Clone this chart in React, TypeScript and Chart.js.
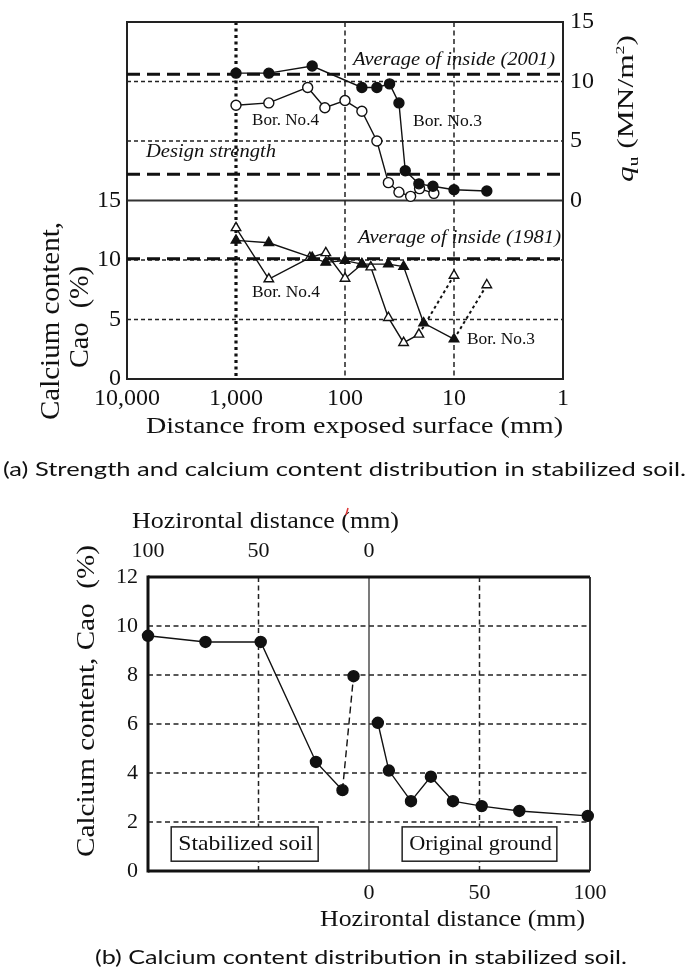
import React, { useEffect, useRef } from 'react';
import { Chart, registerables } from 'chart.js';

Chart.register(...registerables);

// ---------------- Panel (a) data ----------------
const xTickValues = [10000, 1000, 100, 10, 1];
const xTickLabels = ['10,000', '1,000', '100', '10', '1'];
const caoTicks = [0, 5, 10, 15];
const quTicks = [0, 5, 10, 15];

// q_u (MN/m2) vs distance (mm)
const bor3QuDist = [1000, 500, 200, 70, 51, 39, 32, 28, 21, 15.6, 10, 5];
const bor3Qu = [10.7, 10.7, 11.3, 9.5, 9.5, 9.8, 8.2, 2.5, 1.4, 1.2, 0.9, 0.8];
const bor4QuDist = [1000, 500, 220, 153, 100, 70, 51, 40, 32, 25, 20.7, 15.3];
const bor4Qu = [8.0, 8.2, 9.5, 7.8, 8.4, 7.5, 5.0, 1.5, 0.7, 0.35, 1.0, 0.6];

// CaO (%) vs distance (mm)
const bor3CaoDist = [1000, 500, 200, 150, 100, 70, 40, 29, 19, 10];
const bor3Cao = [11.65, 11.45, 10.2, 9.8, 9.95, 9.65, 9.65, 9.45, 4.7, 3.35];
const bor3CaoDotDist = [10, 5];
const bor3CaoDot = [3.35, 7.9];
const bor4CaoDist = [1000, 500, 210, 150, 100, 70, 58, 40, 29, 21];
const bor4Cao = [12.7, 8.4, 10.2, 10.6, 8.45, 9.65, 9.4, 5.15, 3.05, 3.75];
const bor4CaoDotDist = [21, 10];
const bor4CaoDot = [3.75, 8.7];

const avgInside2001 = 10.6; // q_u
const designStrength = 2.2; // q_u
const avgInside1981 = 10.1; // CaO

// ---------------- Panel (b) data ----------------
const stabX = [-100, -74, -49, -24, -12];
const stabCao = [9.6, 9.35, 9.35, 4.45, 3.3];
const stabDashX = [-12, -7];
const stabDashCao = [3.3, 7.95];
const origX = [4, 9, 19, 28, 38, 51, 68, 99];
const origCao = [6.05, 4.1, 2.85, 3.85, 2.85, 2.65, 2.45, 2.25];
const bBottomTicks = [0, 50, 100];
const bTopTicks = [-100, -50, 0];
const bYTicks = [0, 2, 4, 6, 8, 10, 12];

// ---------------- helpers ----------------
const SERIF = "'Liberation Serif', 'Times New Roman', Tinos, serif";
const SANS = "Lato, 'Open Sans', sans-serif";
const INK = '#111';
const QU_OFFSET = 15;
const W = 692;
const TOP_H = 490;
const BOT_H = 481;

const pts = (xs: number[], ys: number[], off = 0) => xs.map((x, i) => ({ x, y: ys[i] + off }));

function txt(ctx: any, s: string, x0: number, x1: number, yc: number, size: number, italic = false, family = SERIF) {
  ctx.save();
  ctx.font = `${italic ? 'italic ' : ''}${size}px ${family}`;
  const w = ctx.measureText(s).width;
  ctx.translate(x0, yc);
  ctx.scale((x1 - x0) / w, 1);
  ctx.textBaseline = 'middle';
  ctx.textAlign = 'left';
  ctx.fillStyle = INK;
  ctx.fillText(s, 0, 0);
  ctx.restore();
}

function vtxt(ctx: any, s: string, xc: number, yB: number, yT: number, size: number, italic = false) {
  ctx.save();
  ctx.font = `${italic ? 'italic ' : ''}${size}px ${SERIF}`;
  const w = ctx.measureText(s).width;
  ctx.translate(xc, yB);
  ctx.rotate(-Math.PI / 2);
  ctx.scale((yB - yT) / w, 1);
  ctx.textBaseline = 'middle';
  ctx.textAlign = 'left';
  ctx.fillStyle = INK;
  ctx.fillText(s, 0, 0);
  ctx.restore();
}

function line(ctx: any, x0: number, y0: number, x1: number, y1: number, w: number, dash: number[] = [], color = INK) {
  ctx.save();
  ctx.beginPath();
  ctx.lineWidth = w;
  ctx.strokeStyle = color;
  ctx.setLineDash(dash);
  ctx.moveTo(x0, y0);
  ctx.lineTo(x1, y1);
  ctx.stroke();
  ctx.restore();
}

const serie = (xs: number[], ys: number[], off: number, style: string, filled: boolean, order = 0) => ({
  type: 'line',
  data: pts(xs, ys, off),
  borderColor: INK,
  borderWidth: 1.4,
  pointStyle: style,
  pointRadius: style === 'triangle' ? 5.5 : 5,
  pointBackgroundColor: filled ? INK : '#fff',
  pointBorderColor: INK,
  pointBorderWidth: 1.4,
  tension: 0,
  clip: false,
  order,
});

const refLine = (v: number) => ({
  type: 'line',
  data: [{ x: 10000, y: v }, { x: 1, y: v }],
  borderColor: INK,
  borderWidth: 3,
  borderDash: [13, 7],
  pointRadius: 0,
  order: 10,
});

const dotted = (xs: number[], ys: number[]) => ({
  type: 'line',
  data: pts(xs, ys),
  borderColor: INK,
  borderWidth: 2,
  borderDash: [3, 3],
  pointStyle: 'triangle',
  pointRadius: (c: any) => (c.dataIndex === xs.length - 1 ? 5.5 : 0),
  pointBackgroundColor: '#fff',
  pointBorderColor: INK,
  pointBorderWidth: 1.4,
  clip: false,
  order: 5,
});

const topPlugin = {
  id: 'topDecor',
  beforeDatasetsDraw(chart: any) {
    const { ctx, chartArea: a, scales } = chart;
    const x = scales.x;
    const y = scales.y;
    [5, 10, 5 + QU_OFFSET, 10 + QU_OFFSET].forEach((v) => {
      const py = y.getPixelForValue(v);
      line(ctx, a.left, py, a.right, py, 1.5, [4, 3], '#222');
    });
    const mid = y.getPixelForValue(QU_OFFSET);
    line(ctx, a.left, mid, a.right, mid, 1.8, [], '#333');
    const p1000 = x.getPixelForValue(1000);
    line(ctx, p1000, a.top, p1000, a.bottom, 3.2, [3, 3.5], '#111');
    [100, 10].forEach((v) => {
      const px = x.getPixelForValue(v);
      line(ctx, px, a.top, px, a.bottom, 1.5, [5, 3.5], '#222');
    });
    ctx.save();
    ctx.lineWidth = 2;
    ctx.strokeStyle = '#222';
    ctx.strokeRect(a.left, a.top, a.right - a.left, a.bottom - a.top);
    ctx.restore();
  },
  afterDraw(chart: any) {
    const { ctx } = chart;
    txt(ctx, 'Average of inside (2001)', 353, 555, 60, 18, true);
    txt(ctx, 'Bor. No.4', 252, 319, 121, 17);
    txt(ctx, 'Bor. No.3', 413, 482, 122, 17);
    txt(ctx, 'Design strength', 146, 276, 152, 18, true);
    txt(ctx, 'Average of inside (1981)', 358, 561, 238, 18, true);
    txt(ctx, 'Bor. No.4', 252, 320, 293, 17);
    txt(ctx, 'Bor. No.3', 467, 535, 340, 17);
    vtxt(ctx, 'Calcium content,', 52, 420, 222, 27);
    vtxt(ctx, 'Cao  (%)', 81, 368, 266, 27);
    txt(ctx, 'Distance from exposed surface (mm)', 146, 563, 427, 23);
    txt(ctx, '(a) Strength and calcium content distribution in stabilized soil.', 3, 686, 470, 19, false, SANS);
    const parts = [
      { t: 'q', size: 23, italic: true, dy: 0 },
      { t: 'u', size: 14, italic: false, dy: 5 },
      { t: ' (MN/m', size: 23, italic: false, dy: 0 },
      { t: '2', size: 13, italic: false, dy: -9 },
      { t: ')', size: 23, italic: false, dy: 0 },
    ];
    ctx.save();
    let total = 0;
    const widths = parts.map((p) => {
      ctx.font = `${p.italic ? 'italic ' : ''}${p.size}px ${SERIF}`;
      const w = ctx.measureText(p.t).width;
      total += w;
      return w;
    });
    const yB = 182;
    const yT = 35;
    ctx.translate(625, yB);
    ctx.rotate(-Math.PI / 2);
    ctx.scale((yB - yT) / total, 1);
    ctx.fillStyle = INK;
    ctx.textBaseline = 'alphabetic';
    let cx = 0;
    parts.forEach((p, i) => {
      ctx.font = `${p.italic ? 'italic ' : ''}${p.size}px ${SERIF}`;
      ctx.fillText(p.t, cx, 8 + p.dy);
      cx += widths[i];
    });
    ctx.restore();
  },
};

const botPlugin = {
  id: 'botDecor',
  beforeDatasetsDraw(chart: any) {
    const { ctx, chartArea: a, scales } = chart;
    const x = scales.x;
    const y = scales.y;
    [2, 4, 6, 8, 10].forEach((v) => {
      const py = y.getPixelForValue(v);
      line(ctx, a.left, py, a.right, py, 1.5, [5, 3.5], '#222');
    });
    [-50, 50].forEach((v) => {
      const px = x.getPixelForValue(v);
      line(ctx, px, a.top, px, a.bottom, 1.5, [5, 3.5], '#222');
    });
    const p0 = x.getPixelForValue(0);
    line(ctx, p0, a.top, p0, a.bottom, 1.3, [], '#333');
    line(ctx, a.left, a.top, a.right, a.top, 3, [], '#111');
    line(ctx, a.left, a.bottom, a.right, a.bottom, 3, [], '#111');
    line(ctx, a.left, a.top - 1.5, a.left, a.bottom + 1.5, 3, [], '#111');
    line(ctx, a.right, a.top, a.right, a.bottom, 1.8, [], '#222');
    const boxes = [
      { t: 'Stabilized soil', x0: -89.5, x1: -23 },
      { t: 'Original ground', x0: 15, x1: 85 },
    ];
    boxes.forEach((b) => {
      const bx0 = x.getPixelForValue(b.x0);
      const bx1 = x.getPixelForValue(b.x1);
      const by0 = y.getPixelForValue(1.8);
      const by1 = y.getPixelForValue(0.4);
      ctx.save();
      ctx.fillStyle = '#fff';
      ctx.fillRect(bx0, by0, bx1 - bx0, by1 - by0);
      ctx.lineWidth = 1.5;
      ctx.strokeStyle = '#222';
      ctx.strokeRect(bx0, by0, bx1 - bx0, by1 - by0);
      ctx.restore();
      txt(ctx, b.t, bx0 + 7, bx1 - 5, (by0 + by1) / 2, 21);
    });
  },
  afterDraw(chart: any) {
    const { ctx } = chart;
    txt(ctx, 'Hozirontal distance (mm)', 132, 399, 32, 23);
    line(ctx, 348, 18, 346, 25, 1.5, [], '#d33');
    txt(ctx, 'Hozirontal distance (mm)', 320, 585, 430, 23);
    vtxt(ctx, 'Calcium content, Cao  (%)', 87, 367, 55, 25);
    txt(ctx, '(b) Calcium content distribution in stabilized soil.', 95, 627, 468, 19, false, SANS);
  },
};

const FONT_LOADS = [
  "24px 'Liberation Serif'",
  "italic 18px 'Liberation Serif'",
  '19px Lato',
];

function refreshWhenFontsReady(chart: any) {
  const fonts: any = (document as any).fonts;
  if (!fonts || !fonts.load) return;
  Promise.all(FONT_LOADS.map((f) => fonts.load(f).catch(() => null)))
    .then(() => {
      try {
        chart.update('none');
      } catch (e) {
        /* chart destroyed */
      }
    });
}

function TopChart() {
  const ref = useRef<HTMLCanvasElement>(null);
  useEffect(() => {
    const tickFont = { family: SERIF, size: 24 };
    const chart = new Chart(ref.current as any, {
      type: 'line',
      data: {
        datasets: [
          refLine(avgInside2001 + QU_OFFSET),
          refLine(designStrength + QU_OFFSET),
          refLine(avgInside1981),
          dotted(bor3CaoDotDist, bor3CaoDot),
          dotted(bor4CaoDotDist, bor4CaoDot),
          serie(bor4QuDist, bor4Qu, QU_OFFSET, 'circle', false, 1),
          serie(bor3QuDist, bor3Qu, QU_OFFSET, 'circle', true, 0),
          serie(bor4CaoDist, bor4Cao, 0, 'triangle', false, 1),
          serie(bor3CaoDist, bor3Cao, 0, 'triangle', true, 0),
        ] as any,
      },
      options: {
        animation: false,
        responsive: false,
        maintainAspectRatio: false,
        events: [],
        layout: { padding: { top: 22, left: 0, right: 0, bottom: 0 } },
        plugins: { legend: { display: false }, tooltip: { enabled: false } },
        scales: {
          x: {
            type: 'logarithmic',
            reverse: true,
            min: 1,
            max: 10000,
            position: 'bottom',
            afterBuildTicks: (s: any) => {
              s.ticks = xTickValues.map((v) => ({ value: v }));
            },
            afterFit: (s: any) => {
              s.height = TOP_H - 379;
            },
            ticks: {
              autoSkip: false,
              maxRotation: 0,
              padding: 5,
              color: INK,
              font: tickFont,
              callback: (v: any) => {
                const i = xTickValues.indexOf(Number(v));
                return i >= 0 ? xTickLabels[i] : '';
              },
            },
            grid: { display: false, drawTicks: false },
            border: { display: false },
          },
          y: {
            type: 'linear',
            position: 'left',
            min: 0,
            max: 30,
            afterBuildTicks: (s: any) => {
              s.ticks = caoTicks.map((v) => ({ value: v }));
            },
            afterFit: (s: any) => {
              s.width = 127;
            },
            ticks: { padding: 6, color: INK, font: tickFont, callback: (v: any) => String(v) },
            grid: { display: false, drawTicks: false },
            border: { display: false },
          },
          y2: {
            type: 'linear',
            position: 'right',
            min: 0,
            max: 30,
            afterBuildTicks: (s: any) => {
              s.ticks = quTicks.map((v) => ({ value: v + QU_OFFSET }));
            },
            afterFit: (s: any) => {
              s.width = W - 563;
            },
            ticks: { padding: 7, color: INK, font: tickFont, callback: (v: any) => String(Number(v) - QU_OFFSET) },
            grid: { display: false, drawTicks: false },
            border: { display: false },
          },
        },
      } as any,
      plugins: [topPlugin],
    });
    refreshWhenFontsReady(chart);
    return () => chart.destroy();
  }, []);
  return <canvas ref={ref} width={W} height={TOP_H} style={{ position: 'absolute', left: 0, top: 0, width: W, height: TOP_H }} />;
}

function BottomChart() {
  const ref = useRef<HTMLCanvasElement>(null);
  useEffect(() => {
    const tickFont = { family: SERIF, size: 22 };
    const chart = new Chart(ref.current as any, {
      type: 'line',
      data: {
        datasets: [
          {
            type: 'line',
            data: pts(stabDashX, stabDashCao),
            borderColor: INK,
            borderWidth: 1.4,
            borderDash: [7, 4],
            pointRadius: (c: any) => (c.dataIndex === stabDashX.length - 1 ? 5.5 : 0),
            pointBackgroundColor: INK,
            pointBorderColor: INK,
            clip: false,
            order: 5,
          },
          { ...serie(stabX, stabCao, 0, 'circle', true), pointRadius: 5.5 },
          { ...serie(origX, origCao, 0, 'circle', true), pointRadius: 5.5 },
        ] as any,
      },
      options: {
        animation: false,
        responsive: false,
        maintainAspectRatio: false,
        events: [],
        layout: { padding: { top: 0, left: 0, right: W - 590, bottom: 0 } },
        plugins: { legend: { display: false }, tooltip: { enabled: false } },
        scales: {
          x: {
            type: 'linear',
            position: 'bottom',
            min: -100,
            max: 100,
            afterBuildTicks: (s: any) => {
              s.ticks = bBottomTicks.map((v) => ({ value: v }));
            },
            afterFit: (s: any) => {
              s.height = BOT_H - 381;
            },
            ticks: { autoSkip: false, maxRotation: 0, padding: 9, color: INK, font: tickFont, callback: (v: any) => String(v) },
            grid: { display: false, drawTicks: false },
            border: { display: false },
          },
          x2: {
            type: 'linear',
            position: 'top',
            min: -100,
            max: 100,
            afterBuildTicks: (s: any) => {
              s.ticks = bTopTicks.map((v) => ({ value: v }));
            },
            afterFit: (s: any) => {
              s.height = 87;
            },
            ticks: { autoSkip: false, maxRotation: 0, padding: 13, color: INK, font: tickFont, callback: (v: any) => String(Math.abs(Number(v))) },
            grid: { display: false, drawTicks: false },
            border: { display: false },
          },
          y: {
            type: 'linear',
            position: 'left',
            min: 0,
            max: 12,
            afterBuildTicks: (s: any) => {
              s.ticks = bYTicks.map((v) => ({ value: v }));
            },
            afterFit: (s: any) => {
              s.width = 148;
            },
            ticks: { padding: 10, color: INK, font: tickFont, callback: (v: any) => String(v) },
            grid: { display: false, drawTicks: false },
            border: { display: false },
          },
        },
      } as any,
      plugins: [botPlugin],
    });
    refreshWhenFontsReady(chart);
    return () => chart.destroy();
  }, []);
  return <canvas ref={ref} width={W} height={BOT_H} style={{ position: 'absolute', left: 0, top: TOP_H, width: W, height: BOT_H }} />;
}

export default function App() {
  return (
    <div style={{ position: 'absolute', left: 0, top: 0, width: W, height: 971, background: '#fff', overflow: 'hidden' }}>
      <div style={{ position: 'absolute', left: -9999, top: 0, visibility: 'hidden' }}>
        <span style={{ fontFamily: SERIF }}>Aa</span>
        <span style={{ fontFamily: SERIF, fontStyle: 'italic' }}>Aa</span>
        <span style={{ fontFamily: SANS }}>Aa</span>
      </div>
      <TopChart />
      <BottomChart />
    </div>
  );
}
